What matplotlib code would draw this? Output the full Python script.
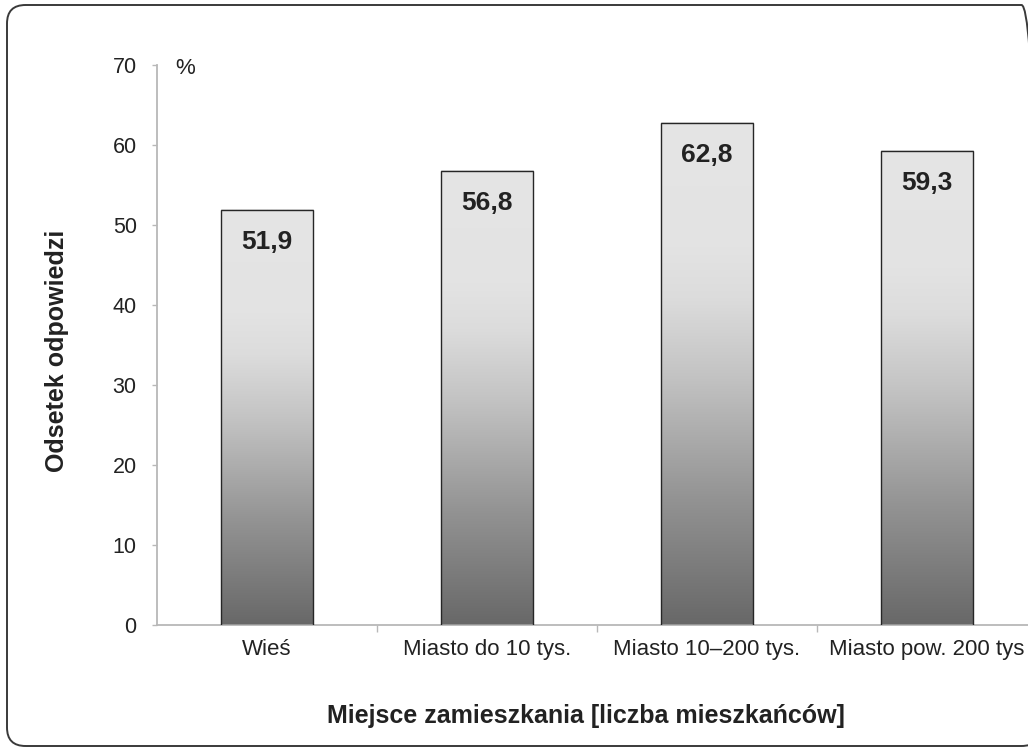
import matplotlib
matplotlib.use("Agg")
import matplotlib.pyplot as plt
import numpy as np
from matplotlib.patches import FancyBboxPatch
from matplotlib.colors import LinearSegmentedColormap

plt.rcParams['font.family'] = ['Liberation Sans', 'DejaVu Sans']

categories = ["Wieś", "Miasto do 10 tys.", "Miasto 10–200 tys.", "Miasto pow. 200 tys"]
values = [51.9, 56.8, 62.8, 59.3]
labels = ["51,9", "56,8", "62,8", "59,3"]
yticks = [0, 10, 20, 30, 40, 50, 60, 70]

W, H = 1028, 748
fig = plt.figure(figsize=(W / 100, H / 100), dpi=100)
border = FancyBboxPatch((7 / W, 2 / H), (1040 - 7) / W, (743 - 2) / H,
                        boxstyle="round,pad=0,rounding_size=0.018",
                        transform=fig.transFigure, fill=False,
                        edgecolor="#3a3a3a", linewidth=1.4, zorder=0,
                        mutation_aspect=W / H)
fig.patches.append(border)

ax = fig.add_axes([157 / W, (H - 625) / H, 880 / W, 560 / H])

cmap = LinearSegmentedColormap.from_list(
    "g", [(0.0, "#686868"), (0.25, "#939393"), (0.5, "#c4c4c4"),
          (0.65, "#dcdcdc"), (0.75, "#e3e3e3"), (1.0, "#e5e5e5")])

bars = ax.bar(range(len(values)), values, width=0.42, facecolor="none",
              edgecolor="#262626", linewidth=1.0, zorder=3)
grad = np.linspace(0, 1, 256).reshape(-1, 1)
for b in bars:
    x0, w, h = b.get_x(), b.get_width(), b.get_height()
    ax.imshow(grad, cmap=cmap, origin="lower", aspect="auto",
              extent=[x0, x0 + w, 0, h], zorder=2, interpolation="bilinear")
ax.set_xlim(-0.5, 3.5)
ax.set_ylim(0, 70)

for b, lab in zip(bars, labels):
    ax.annotate(lab, (b.get_x() + b.get_width() / 2, b.get_height()),
                xytext=(0, -23), textcoords="offset points",
                ha="center", va="center", fontsize=19, fontweight="bold",
                color="#222222", zorder=4)

for s in ["top", "right"]:
    ax.spines[s].set_visible(False)
for s in ["left", "bottom"]:
    ax.spines[s].set_color("#b8b8b8")
    ax.spines[s].set_linewidth(1.3)

ax.set_yticks(yticks)
ax.set_yticklabels([str(t) for t in yticks], fontsize=15.5, color="#222222")
ax.tick_params(axis="y", length=3.6, width=1, color="#b8b8b8", pad=11)

ax.set_xticks([0.5, 1.5, 2.5])
ax.set_xticklabels([])
ax.tick_params(axis="x", which="major", length=5, width=1, color="#b8b8b8")
ax.set_xticks(range(len(categories)), minor=True)
ax.set_xticklabels(categories, minor=True, fontsize=16, color="#222222")
ax.tick_params(axis="x", which="minor", length=0, pad=10)

fig.text(175 / W, 1 - 68 / H, "%", fontsize=16,
         ha="left", va="center", color="#222222")

fig.text(57 / W, 1 - 351 / H, "Odsetek odpowiedzi", rotation=90, fontsize=18,
         fontweight="bold", ha="center", va="center", color="#222222")
fig.text(586 / W, 1 - 716 / H, "Miejsce zamieszkania [liczba mieszkańców]",
         fontsize=18, fontweight="bold", ha="center", va="center", color="#222222")

fig.savefig("out.png", dpi=100)
